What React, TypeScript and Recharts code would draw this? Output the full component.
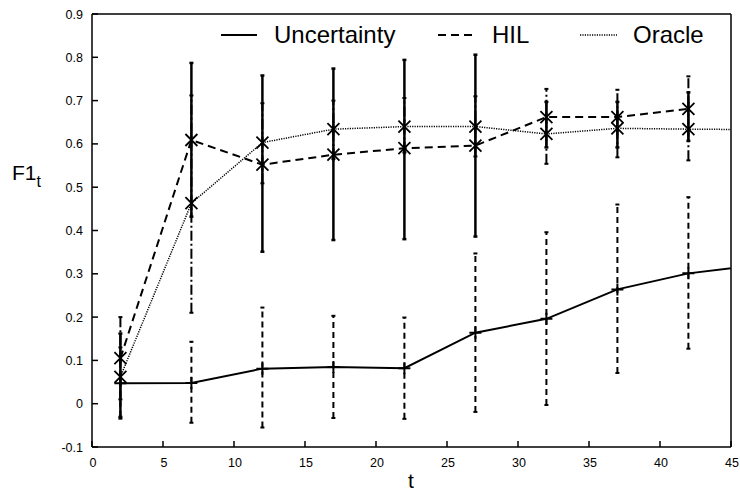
import { ComposedChart, Line, ErrorBar, XAxis, YAxis } from "recharts";

// sample times and the clipped tail point that runs past the right edge
const T = [2, 7, 12, 17, 22, 27, 32, 37, 42];
const TAIL_T = 47;

const uncMean = [0.047, 0.048, 0.081, 0.085, 0.082, 0.164, 0.196, 0.264, 0.301];
const uncLow = [-0.03, -0.044, -0.055, -0.033, -0.035, -0.019, -0.003, 0.071, 0.127];
const uncHigh = [0.13, 0.143, 0.222, 0.203, 0.199, 0.347, 0.396, 0.46, 0.477];
const uncTail = 0.321;

const hilMean = [0.105, 0.609, 0.552, 0.575, 0.59, 0.596, 0.662, 0.662, 0.681];
const hilLow = [0.01, 0.21, 0.509, 0.565, 0.58, 0.571, 0.554, 0.569, 0.562];
const hilHigh = [0.2, 0.712, 0.694, 0.7, 0.706, 0.71, 0.727, 0.725, 0.756];

const oraMean = [0.062, 0.463, 0.603, 0.634, 0.64, 0.64, 0.623, 0.636, 0.634];
const oraLow = [-0.034, 0.432, 0.351, 0.378, 0.38, 0.386, 0.592, 0.592, 0.607];
const oraHigh = [0.162, 0.787, 0.758, 0.774, 0.794, 0.806, 0.697, 0.697, 0.719];
const oraTail = 0.633;

const xTicks = [0, 5, 10, 15, 20, 25, 30, 35, 40, 45];
const yTicks = [-0.1, 0, 0.1, 0.2, 0.3, 0.4, 0.5, 0.6, 0.7, 0.8, 0.9];

const FONT = "'Liberation Sans', Arial, Helvetica, sans-serif";

function build(mean: number[], low: number[], high: number[], tail?: number) {
  const rows: { t: number; v: number; err?: number[] }[] = T.map((t, i) => ({
    t,
    v: mean[i],
    err: [mean[i] - low[i], high[i] - mean[i]],
  }));
  if (tail !== undefined) rows.push({ t: TAIL_T, v: tail });
  return rows;
}

const uncData = build(uncMean, uncLow, uncHigh, uncTail);
const hilData = build(hilMean, hilLow, hilHigh);
const oraData = build(oraMean, oraLow, oraHigh, oraTail);

const PlusDot = (p: any) => {
  const { cx, cy, payload, index } = p;
  if (payload.t > 45 || cx == null) return <g key={`p${index}`} />;
  return (
    <path
      key={`p${index}`}
      d={`M${cx - 6},${cy}H${cx + 6}M${cx},${cy - 6}V${cy + 6}`}
      stroke="#000"
      strokeWidth={2}
      fill="none"
    />
  );
};

const StarDot = (p: any) => {
  const { cx, cy, payload, index } = p;
  if (payload.t > 45 || cx == null) return <g key={`s${index}`} />;
  const r = 6;
  return (
    <path
      key={`s${index}`}
      d={`M${cx - r},${cy - r}L${cx + r},${cy + r}M${cx - r},${cy + r}L${cx + r},${cy - r}M${cx},${cy - r - 1}V${cy + r + 1}`}
      stroke="#000"
      strokeWidth={1.8}
      fill="none"
    />
  );
};

const fmt = (v: number) => String(Number(v.toFixed(1)));
const TK = 6; // inward tick length

// gnuplot-style ticks: short marks pointing into the plot box
const BottomTick = ({ x, y, payload }: any) => (
  <g>
    <path d={`M${x},${y}V${y - TK}`} stroke="#000" strokeWidth={1.5} />
    <text x={x + 1} y={y + 20} textAnchor="middle" fontSize={12.5} fontFamily={FONT} fill="#000">
      {fmt(payload.value)}
    </text>
  </g>
);
const TopTick = ({ x, y }: any) => (
  <path d={`M${x},${y}V${y + TK}`} stroke="#000" strokeWidth={1.5} />
);
const LeftTick = ({ x, y, payload }: any) => (
  <g>
    <path d={`M${x},${y}H${x + TK}`} stroke="#000" strokeWidth={1.5} />
    <text x={x - 9} y={y + 4.5} textAnchor="end" fontSize={12.5} fontFamily={FONT} fill="#000">
      {fmt(payload.value)}
    </text>
  </g>
);
const RightTick = ({ x, y }: any) => (
  <path d={`M${x},${y}H${x - TK}`} stroke="#000" strokeWidth={1.5} />
);

export default function App() {
  return (
    <div style={{ position: "absolute", left: 0, top: 0, width: 740, height: 493, background: "#fff" }}>
      <ComposedChart
        width={740}
        height={493}
        margin={{ top: 13, right: 8, bottom: 0, left: 0 }}
      >
        <XAxis
          dataKey="t"
          type="number"
          domain={[0, 45]}
          ticks={xTicks}
          interval={0}
          allowDataOverflow
          height={46}
          tickSize={0}
          tickMargin={0}
          tickLine={false}
          tick={BottomTick}
          stroke="#000"
          strokeWidth={1.5}
        />
        <XAxis
          xAxisId="top"
          orientation="top"
          dataKey="t"
          type="number"
          domain={[0, 45]}
          ticks={xTicks}
          interval={0}
          height={1}
          tickSize={0}
          tickMargin={0}
          tickLine={false}
          tick={TopTick}
          stroke="#000"
          strokeWidth={1.5}
        />
        <YAxis
          type="number"
          domain={[-0.1, 0.9]}
          ticks={yTicks}
          interval={0}
          allowDataOverflow
          width={92}
          tickSize={0}
          tickMargin={0}
          tickLine={false}
          tick={LeftTick}
          stroke="#000"
          strokeWidth={1.5}
        />
        <YAxis
          yAxisId="right"
          orientation="right"
          type="number"
          domain={[-0.1, 0.9]}
          ticks={yTicks}
          interval={0}
          width={1}
          tickSize={0}
          tickMargin={0}
          tickLine={false}
          tick={RightTick}
          stroke="#000"
          strokeWidth={1.5}
        />

        <Line
          data={uncData}
          dataKey="v"
          name="Uncertainty"
          stroke="#000"
          strokeWidth={2}
          dot={PlusDot}
          isAnimationActive={false}
        >
          <ErrorBar dataKey="err" direction="y" width={2} stroke="#000" strokeWidth={2} strokeDasharray="6 4" />
        </Line>
        <Line
          data={hilData}
          dataKey="v"
          name="HIL"
          stroke="#000"
          strokeWidth={2}
          strokeDasharray="8 5"
          dot={StarDot}
          isAnimationActive={false}
        >
          <ErrorBar dataKey="err" direction="y" width={2} stroke="#000" strokeWidth={2} strokeDasharray="10 3 2 3" />
        </Line>
        <Line
          data={oraData}
          dataKey="v"
          name="Oracle"
          stroke="#000"
          strokeWidth={1.5}
          strokeDasharray="1.2 1.2"
          dot={StarDot}
          isAnimationActive={false}
        >
          <ErrorBar dataKey="err" direction="y" width={2} stroke="#000" strokeWidth={2.5} />
        </Line>
      </ComposedChart>

      <svg
        width={740}
        height={493}
        style={{ position: "absolute", left: 0, top: 0, pointerEvents: "none" }}
        fontFamily={FONT}
      >
        <line x1={221} y1={35} x2={257} y2={35} stroke="#000" strokeWidth={2} />
        <text x={274} y={43} fontSize={24}>Uncertainty</text>
        <line x1={438} y1={35} x2={477} y2={35} stroke="#000" strokeWidth={2} strokeDasharray="8 5" />
        <text x={492} y={43} fontSize={24}>HIL</text>
        <line x1={580} y1={35} x2={617} y2={35} stroke="#000" strokeWidth={1.5} strokeDasharray="1.2 1.2" />
        <text x={633} y={43} fontSize={24}>Oracle</text>

        <text x={12} y={180} fontSize={21}>
          F1<tspan dy={7} fontSize={16}>t</tspan>
        </text>
        <text x={411} y={488} fontSize={21} textAnchor="middle">t</text>
      </svg>
    </div>
  );
}
